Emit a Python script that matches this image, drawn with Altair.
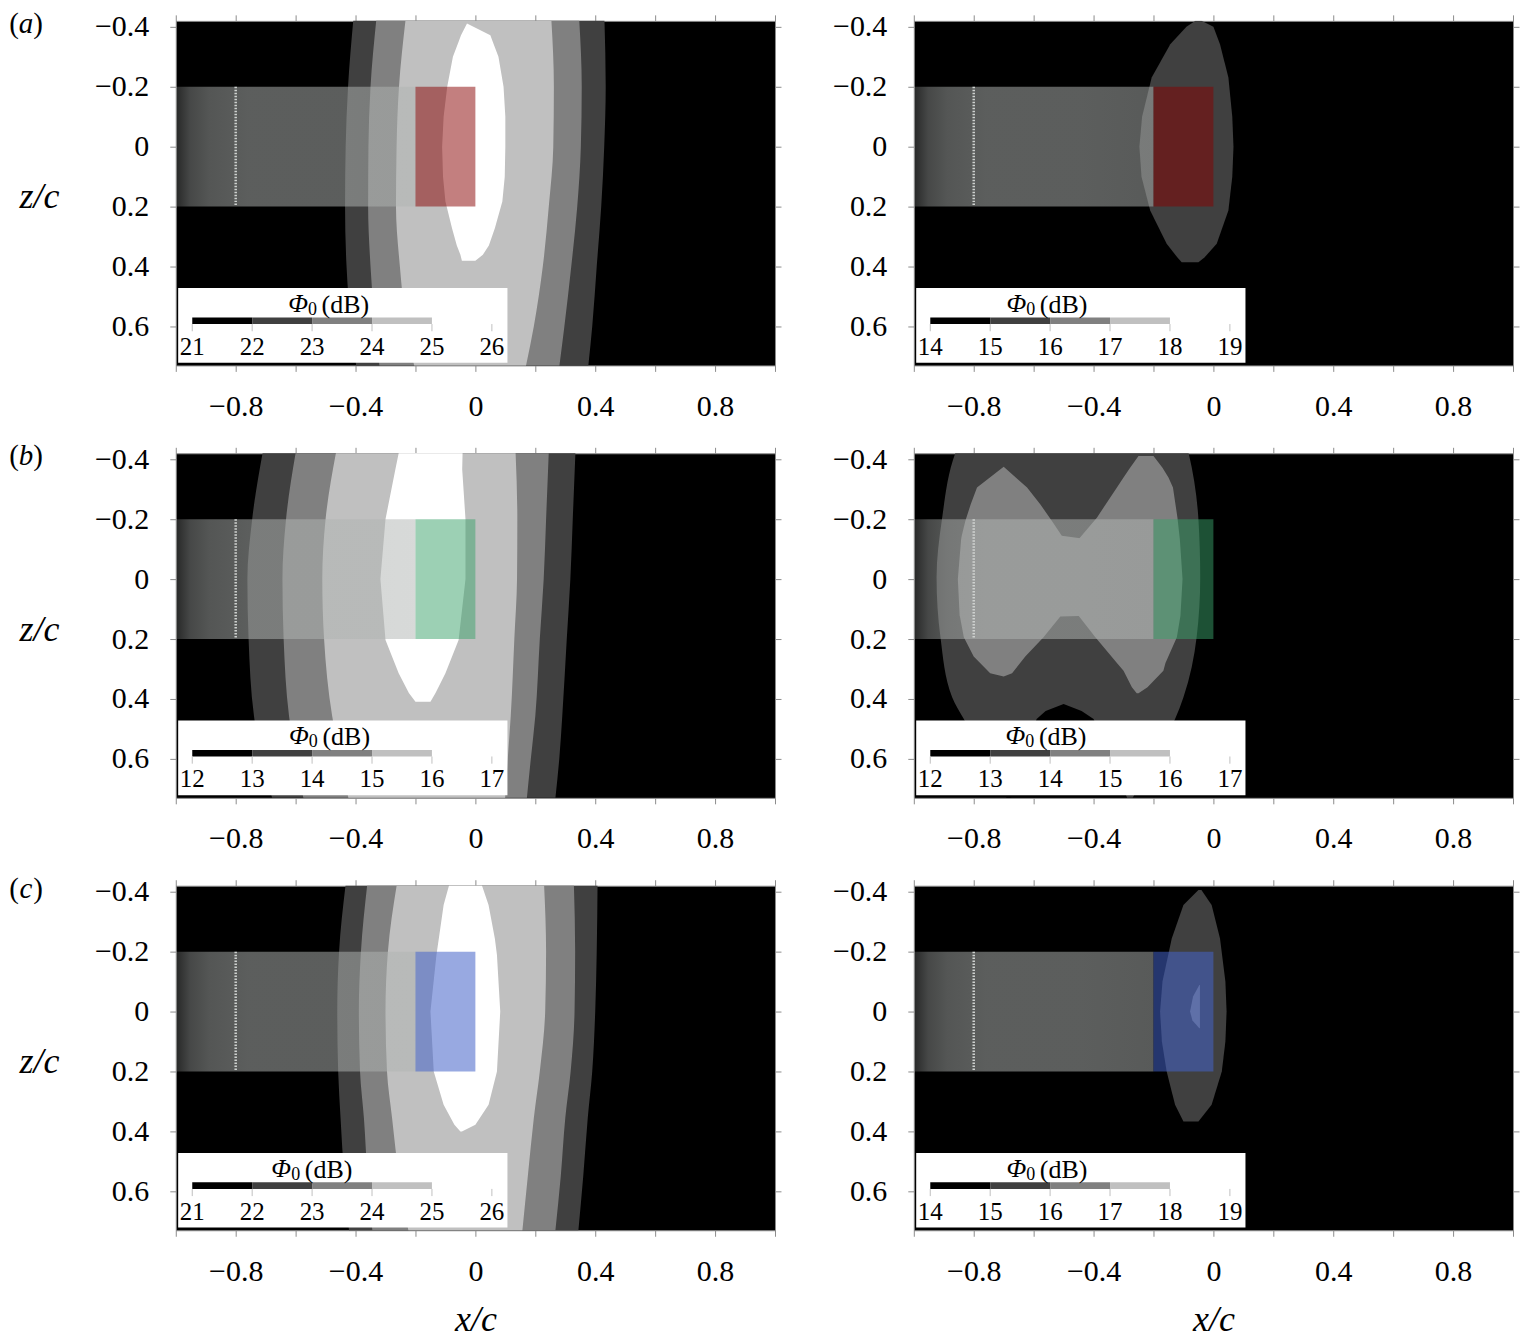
import altair as alt
import pandas as pd

FONT = "Liberation Serif"
X_DOMAIN = [-1.0, 1.0]
Z_DOMAIN = [-0.42, 0.73]
X_TICKS = [-1.0, -0.8, -0.6, -0.4, -0.2, 0.0, 0.2, 0.4, 0.6, 0.8, 1.0]
X_LABELS = [-0.8, -0.4, 0.0, 0.4, 0.8]
Z_TICKS = [-0.4, -0.2, 0.0, 0.2, 0.4, 0.6]

LEVEL_COLORS = ["#000000", "#404040", "#808080", "#c0c0c0", "#ffffff"]

# airfoil (grey strip), tripping line and tip region
AIRFOIL_X = [-1.0, -0.2]
AIRFOIL_Z = [-0.2, 0.2]
TRIP_X = [-0.8]
TIP_X = [-0.2, 0.0]
TIP_COLORS = {"a": "#880000", "b": "#39a169", "c": "#4462c8"}
TIP_OPACITY = {"a": 0.5, "b": 0.5, "c": 0.55}

# colour-bar tick values (dB)
CBAR_A0 = [21, 22, 23, 24, 25, 26]
CBAR_A1 = [14, 15, 16, 17, 18, 19]
CBAR_B0 = [12, 13, 14, 15, 16, 17]
CBAR_B1 = [12, 13, 14, 15, 16, 17]
CBAR_C0 = [21, 22, 23, 24, 25, 26]
CBAR_C1 = [14, 15, 16, 17, 18, 19]

# ---- contour bands, (a) left ----
A0_BZ = [-0.45, -0.2, 0.0, 0.2, 0.4, 0.6, 0.75]
A0_L1 = dict(z=A0_BZ, xl=[-0.405, -0.425, -0.433, -0.435, -0.43, -0.415, -0.395],
             xr=[0.43, 0.435, 0.43, 0.42, 0.405, 0.39, 0.375])
A0_L2 = dict(z=A0_BZ, xl=[-0.328, -0.35, -0.357, -0.358, -0.35, -0.335, -0.318],
             xr=[0.345, 0.355, 0.352, 0.34, 0.32, 0.297, 0.278])
A0_L3 = dict(z=A0_BZ, xl=[-0.23, -0.255, -0.263, -0.265, -0.252, -0.23, -0.2],
             xr=[0.252, 0.262, 0.26, 0.245, 0.225, 0.195, 0.165])
A0_L4 = dict(z=[-0.411, -0.372, -0.35, -0.3, -0.2, -0.1, 0.0, 0.1, 0.183, 0.272, 0.33, 0.361, 0.381],
             xl=[-0.028, -0.048, -0.056, -0.075, -0.094, -0.106, -0.111, -0.108, -0.1, -0.078, -0.062, -0.05, -0.045],
             xr=[-0.028, 0.05, 0.058, 0.077, 0.094, 0.1, 0.1, 0.098, 0.09, 0.065, 0.045, 0.025, 0.0])

# ---- (a) right ----
A1_L1 = dict(z=[-0.42, -0.40, -0.342, -0.231, -0.1, 0.0, 0.1, 0.213, 0.324, 0.37, 0.386],
             xl=[-0.06, -0.09, -0.144, -0.206, -0.238, -0.247, -0.24, -0.211, -0.156, -0.12, -0.106],
             xr=[-0.04, 0.0, 0.022, 0.05, 0.063, 0.067, 0.063, 0.05, 0.011, -0.03, -0.05])

# ---- (b) left ----
B0_BZ = [-0.45, -0.2, 0.0, 0.2, 0.457, 0.6, 0.75]
B0_L1 = dict(z=B0_BZ, xl=[-0.705, -0.745, -0.761, -0.757, -0.739, -0.715, -0.672],
             xr=[0.335, 0.325, 0.317, 0.305, 0.29, 0.28, 0.265])
B0_L2 = dict(z=B0_BZ, xl=[-0.595, -0.632, -0.644, -0.64, -0.622, -0.6, -0.57],
             xr=[0.246, 0.236, 0.228, 0.215, 0.2, 0.185, 0.17])
B0_L3 = dict(z=B0_BZ, xl=[-0.46, -0.5, -0.511, -0.505, -0.478, -0.45, -0.42],
             xr=[0.133, 0.14, 0.139, 0.13, 0.118, 0.108, 0.098])
B0_L4 = dict(z=[-0.45, -0.367, -0.2, 0.0, 0.203, 0.314, 0.38, 0.409],
             xl=[-0.25, -0.267, -0.3, -0.317, -0.3, -0.256, -0.222, -0.2],
             xr=[-0.042, -0.044, -0.033, -0.033, -0.056, -0.1, -0.133, -0.15])

# ---- (b) right ----
B1_L1 = dict(z=[-0.45, -0.422, -0.2, -0.005, 0.194, 0.394, 0.467, 0.6, 0.75],
             xl=[-0.85, -0.861, -0.906, -0.924, -0.911, -0.872, -0.833, -0.76, -0.66],
             xr=[-0.09, -0.083, -0.05, -0.044, -0.056, -0.1, -0.128, -0.2, -0.28])
B1_NOTCH = dict(z=[0.417, 0.44, 0.467, 0.6, 0.75],
                xl=[-0.5, -0.56, -0.59, -0.64, -0.7],
                xr=[-0.5, -0.44, -0.40, -0.34, -0.28])
B1_L2A = dict(z=[-0.375, -0.306, -0.25, -0.194, -0.145, -0.133, 0.0, 0.122, 0.125, 0.194, 0.258, 0.314, 0.325],
              xl=[-0.70, -0.789, -0.81, -0.828, -0.84, -0.842, -0.853, -0.847, -0.846, -0.833, -0.80, -0.745, -0.70],
              xr=[-0.70, -0.622, -0.578, -0.539, -0.506, -0.42, -0.42, -0.42, -0.511, -0.567, -0.628, -0.672, -0.70])
B1_L2B = dict(z=[-0.411, -0.372, -0.339, -0.306, -0.205, -0.133, 0.0, 0.122, 0.194, 0.28, 0.306, 0.361, 0.381],
              xl=[-0.25, -0.278, -0.30, -0.322, -0.389, -0.45, -0.45, -0.45, -0.394, -0.322, -0.30, -0.272, -0.256],
              xr=[-0.20, -0.17, -0.15, -0.135, -0.12, -0.112, -0.103, -0.11, -0.122, -0.16, -0.167, -0.22, -0.25])

# ---- (c) left ----
C0_BZ = [-0.45, -0.2, 0.0, 0.2, 0.356, 0.55, 0.75]
C0_L1 = dict(z=C0_BZ, xl=[-0.43, -0.455, -0.461, -0.458, -0.45, -0.438, -0.42],
             xr=[0.408, 0.405, 0.4, 0.39, 0.375, 0.36, 0.342])
C0_L2 = dict(z=C0_BZ, xl=[-0.358, -0.382, -0.389, -0.385, -0.372, -0.36, -0.342],
             xr=[0.328, 0.333, 0.331, 0.318, 0.3, 0.285, 0.265])
C0_L3 = dict(z=C0_BZ, xl=[-0.258, -0.292, -0.3, -0.295, -0.278, -0.255, -0.22],
             xr=[0.228, 0.236, 0.233, 0.215, 0.195, 0.175, 0.155])
C0_L4 = dict(z=[-0.45, -0.356, -0.244, -0.189, 0.0, 0.2, 0.311, 0.378, 0.4],
             xl=[-0.08, -0.106, -0.122, -0.13, -0.15, -0.139, -0.106, -0.07, -0.05],
             xr=[0.012, 0.044, 0.065, 0.072, 0.083, 0.072, 0.044, 0.0, -0.045])

# ---- (c) right ----
C1_L1 = dict(z=[-0.406, -0.356, -0.244, -0.1, 0.0, 0.1, 0.2, 0.311, 0.367],
             xl=[-0.05, -0.1, -0.139, -0.17, -0.178, -0.172, -0.156, -0.128, -0.1],
             xr=[-0.04, -0.006, 0.022, 0.04, 0.044, 0.04, 0.028, -0.006, -0.05])
C1_L2 = dict(z=[-0.089, -0.05, 0.0, 0.03, 0.056],
             xl=[-0.047, -0.068, -0.078, -0.07, -0.047],
             xr=[-0.045, -0.045, -0.045, -0.045, -0.045])

# (level, shape, smooth?)
PANELS = {
    "a0": dict(shapes=[(1, A0_L1, True), (2, A0_L2, True), (3, A0_L3, True), (4, A0_L4, False)],
               cbar=CBAR_A0, tx=-0.592),
    "a1": dict(shapes=[(1, A1_L1, False)], cbar=CBAR_A1, tx=-0.658),
    "b0": dict(shapes=[(1, B0_L1, True), (2, B0_L2, True), (3, B0_L3, True), (4, B0_L4, False)],
               cbar=CBAR_B0, tx=-0.589),
    "b1": dict(shapes=[(1, B1_L1, True), (0, B1_NOTCH, False), (2, B1_L2B, False), (2, B1_L2A, False)],
               cbar=CBAR_B1, tx=-0.661),
    "c0": dict(shapes=[(1, C0_L1, True), (2, C0_L2, True), (3, C0_L3, True), (4, C0_L4, False)],
               cbar=CBAR_C0, tx=-0.648),
    "c1": dict(shapes=[(1, C1_L1, False), (2, C1_L2, False)], cbar=CBAR_C1, tx=-0.658),
}

# ---- layout constants ----
W, H = 600, 345
H_SPACING = 50
V_SPACING = 19
FRAME = "#8c8c8c"
LAB_FS = 30
LEG_BOX = (-0.992, 0.107, 0.472, 0.721)
CB_X0, CB_STEP = -0.945, 0.2
CB_Z = (0.570, 0.592)
CB_TICK_Z = (0.592, 0.616)
CB_LAB_Z = 0.668
TITLE_Z = 0.525

XS = alt.Scale(domain=X_DOMAIN, nice=False, zero=False)
YS = alt.Scale(domain=Z_DOMAIN, reverse=True, nice=False, zero=False)


def bottom_axis(show_title):
    kw = dict(orient="bottom", values=X_TICKS, format=".1~f",
              labelExpr="indexof(%s, datum.value) >= 0 ? datum.label : ''" % str(X_LABELS),
              tickSize=6, tickColor=FRAME, domain=False, grid=False,
              labelFont=FONT, labelFontSize=LAB_FS, labelColor="black", labelPadding=20,
              labelFlush=False, labelOverlap=False)
    if show_title:
        kw.update(title="x/c", titleFont=FONT, titleFontSize=36, titleFontStyle="italic",
                  titleFontWeight="normal", titleColor="black", titleY=89, titleBaseline="middle")
    else:
        kw.update(title=None)
    return alt.Axis(**kw)


def left_axis(show_title):
    kw = dict(orient="left", values=Z_TICKS, format=".1~f",
              tickSize=6, tickColor=FRAME, domain=False, grid=False,
              labelFont=FONT, labelFontSize=LAB_FS, labelColor="black", labelPadding=21,
              labelFlush=False, labelOverlap=False, labelBaseline="middle")
    if show_title:
        kw.update(title="z/c", titleFont=FONT, titleFontSize=36, titleFontStyle="italic",
                  titleFontWeight="normal", titleColor="black", titleAngle=0,
                  titleX=-137, titleY=176, titleAlign="center", titleBaseline="middle")
    else:
        kw.update(title=None)
    return alt.Axis(**kw)


TOP_AXIS = alt.Axis(orient="top", values=X_TICKS, labels=False, tickSize=6, tickColor=FRAME,
                    domain=False, grid=False, title=None)
RIGHT_AXIS = alt.Axis(orient="right", values=Z_TICKS, labels=False, tickSize=6, tickColor=FRAME,
                      domain=False, grid=False, title=None)

OVERLAY_FILL = alt.LinearGradient(
    gradient="linear", x1=0, x2=1, y1=0, y2=0,
    stops=[alt.GradientStop(color="rgba(176,180,178,0.22)", offset=0),
           alt.GradientStop(color="rgba(176,180,178,0.40)", offset=0.06),
           alt.GradientStop(color="rgba(176,180,178,0.48)", offset=0.14),
           alt.GradientStop(color="rgba(176,180,178,0.52)", offset=0.3),
           alt.GradientStop(color="rgba(176,180,178,0.52)", offset=0.7),
           alt.GradientStop(color="rgba(176,180,178,0.50)", offset=1)])


def text_layer(df, x, z, text, size, style="normal", align="center", color="black"):
    return alt.Chart(df).mark_text(font=FONT, fontSize=size, fontStyle=style, align=align,
                                   baseline="middle", color=color).encode(
        x=alt.X(x, scale=XS, axis=None), y=alt.Y(z, scale=YS, axis=None), text=text)


def panel(key, letter, left, bottom):
    cfg = PANELS[key]
    layers = []
    for i, (lvl, shp, smooth) in enumerate(cfg["shapes"]):
        df = pd.DataFrame(shp)
        xax = bottom_axis(bottom) if i == 0 else None
        yax = left_axis(left) if i == 0 else None
        layers.append(alt.Chart(df).mark_area(orient="horizontal",
                                              interpolate="monotone" if smooth else "linear", clip=True,
                                              color=LEVEL_COLORS[lvl], opacity=1).encode(
            y=alt.Y("z:Q", scale=YS, axis=yax), x=alt.X("xl:Q", scale=XS, axis=xax), x2="xr:Q"))

    af = pd.DataFrame({"x0": [AIRFOIL_X[0]], "x1": [AIRFOIL_X[1]],
                       "z0": [AIRFOIL_Z[0]], "z1": [AIRFOIL_Z[1]]})
    layers.append(alt.Chart(af).mark_rect(fill=OVERLAY_FILL).encode(
        x=alt.X("x0:Q", scale=XS, axis=TOP_AXIS), x2="x1:Q",
        y=alt.Y("z0:Q", scale=YS, axis=RIGHT_AXIS), y2="z1:Q"))

    tr = pd.DataFrame({"x": TRIP_X, "z0": [AIRFOIL_Z[0]], "z1": [AIRFOIL_Z[1]]})
    layers.append(alt.Chart(tr).mark_rule(color="#cfd2d0", strokeWidth=2.5, strokeDash=[1.5, 1.5]).encode(
        x=alt.X("x:Q", scale=XS, axis=None), y=alt.Y("z0:Q", scale=YS, axis=None), y2="z1:Q"))

    tp = pd.DataFrame({"x0": [TIP_X[0]], "x1": [TIP_X[1]], "z0": [AIRFOIL_Z[0]], "z1": [AIRFOIL_Z[1]]})
    layers.append(alt.Chart(tp).mark_rect(color=TIP_COLORS[letter], opacity=TIP_OPACITY[letter]).encode(
        x=alt.X("x0:Q", scale=XS, axis=None), x2="x1:Q",
        y=alt.Y("z0:Q", scale=YS, axis=None), y2="z1:Q"))

    # inset colour bar
    box = pd.DataFrame({"x0": [LEG_BOX[0]], "x1": [LEG_BOX[1]], "z0": [LEG_BOX[2]], "z1": [LEG_BOX[3]]})
    layers.append(alt.Chart(box).mark_rect(color="white").encode(
        x=alt.X("x0:Q", scale=XS, axis=None), x2="x1:Q",
        y=alt.Y("z0:Q", scale=YS, axis=None), y2="z1:Q"))

    ticks = cfg["cbar"]
    n = len(ticks) - 2
    seg = pd.DataFrame({"x0": [CB_X0 + i * CB_STEP for i in range(n)],
                        "x1": [CB_X0 + (i + 1) * CB_STEP for i in range(n)],
                        "z0": [CB_Z[0]] * n, "z1": [CB_Z[1]] * n,
                        "c": LEVEL_COLORS[:n]})
    layers.append(alt.Chart(seg).mark_rect().encode(
        x=alt.X("x0:Q", scale=XS, axis=None), x2="x1:Q",
        y=alt.Y("z0:Q", scale=YS, axis=None), y2="z1:Q",
        color=alt.Color("c:N", scale=None)))
    tk = pd.DataFrame({"x": [CB_X0 + i * CB_STEP for i in range(len(ticks))],
                       "z0": [CB_TICK_Z[0]] * len(ticks), "z1": [CB_TICK_Z[1]] * len(ticks),
                       "z": [CB_LAB_Z] * len(ticks), "t": [str(v) for v in ticks]})
    layers.append(alt.Chart(tk).mark_rule(color="#c0c0c0", strokeWidth=1).encode(
        x=alt.X("x:Q", scale=XS, axis=None), y=alt.Y("z0:Q", scale=YS, axis=None), y2="z1:Q"))
    layers.append(text_layer(tk, "x:Q", "z:Q", "t:N", 25))

    tx = cfg["tx"]
    ttl = pd.DataFrame({"x1": [tx], "x2": [tx + 0.048], "x3": [tx + 0.158],
                        "z1": [TITLE_Z], "z2": [TITLE_Z + 0.02], "z3": [TITLE_Z + 0.003],
                        "t1": ["\u03a6"], "t2": ["0"], "t3": ["(dB)"]})
    layers.append(text_layer(ttl, "x1:Q", "z1:Q", "t1:N", 26, style="italic"))
    layers.append(text_layer(ttl, "x2:Q", "z2:Q", "t2:N", 18))
    layers.append(text_layer(ttl, "x3:Q", "z3:Q", "t3:N", 26))

    if left:
        lt = pd.DataFrame({"p1": ["("], "p2": [letter], "p3": [")"]})
        for field, px, st in (("p1", -162, "normal"), ("p2", -150, "italic"), ("p3", -138, "normal")):
            layers.append(alt.Chart(lt).mark_text(font=FONT, fontSize=29, fontStyle=st, baseline="middle",
                                                  align="center", color="black").encode(
                x=alt.value(px), y=alt.value(3), text=f"{field}:N"))

    return alt.layer(*layers).properties(width=W, height=H).resolve_axis(x="independent", y="independent")


rows = []
for r, letter in enumerate("abc"):
    rows.append(alt.hconcat(panel(f"{letter}0", letter, True, r == 2),
                            panel(f"{letter}1", letter, False, r == 2), spacing=H_SPACING))

chart = (alt.vconcat(*rows, spacing=V_SPACING)
         .properties(padding=0, background="white")
         .configure_view(fill="black", stroke=FRAME, strokeWidth=1))

chart.save("out.html", embed_options={"renderer": "svg", "actions": False})
